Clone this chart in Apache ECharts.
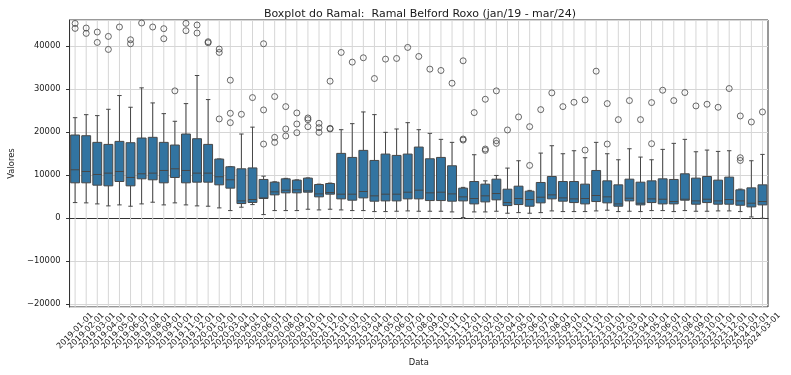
<!DOCTYPE html>
<html>
<head>
<meta charset="utf-8">
<script src="https://cdn.jsdelivr.net/npm/echarts@6/dist/echarts.min.js"></script>
<style>
  html, body { margin: 0; padding: 0; background: #fff; }
  #boxplotMain { width: 791px; height: 375px; }
</style>
</head>
<body>
<div id="boxplotMain"></div>
<script>
// meses (eixo x)
var datas = ['2019-01-01','2019-02-01','2019-03-01','2019-04-01','2019-05-01','2019-06-01','2019-07-01','2019-08-01','2019-09-01','2019-10-01','2019-11-01','2019-12-01',
    '2020-01-01','2020-02-01','2020-03-01','2020-04-01','2020-05-01','2020-06-01','2020-07-01','2020-08-01','2020-09-01','2020-10-01','2020-11-01','2020-12-01',
    '2021-01-01','2021-02-01','2021-03-01','2021-04-01','2021-05-01','2021-06-01','2021-07-01','2021-08-01','2021-09-01','2021-10-01','2021-11-01','2021-12-01',
    '2022-01-01','2022-02-01','2022-03-01','2022-04-01','2022-05-01','2022-06-01','2022-07-01','2022-08-01','2022-09-01','2022-10-01','2022-11-01','2022-12-01',
    '2023-01-01','2023-02-01','2023-03-01','2023-04-01','2023-05-01','2023-06-01','2023-07-01','2023-08-01','2023-09-01','2023-10-01','2023-11-01','2023-12-01',
    '2024-01-01','2024-02-01','2024-03-01'];

// estatisticas de cada caixa
var bigodeInf = [3570,3500,3260,2800,3030,2720,3260,3650,3030,3500,3030,2800,
    2720,2330,1710,2490,3100,780,1710,1710,1710,2020,1860,2020,
    1860,1710,1710,1480,1480,1550,1630,1550,1550,1550,1400,80,
    1400,1400,1550,1090,1240,1090,1240,1630,1480,1480,1480,1630,
    1790,1480,1550,1480,1710,1710,1480,1710,1550,1550,1630,1630,
    1480,230,-80];
var q1 = [8160,8160,7610,7460,8470,7460,9090,8860,8160,9400,8160,8310,
    8310,7690,6920,3340,3600,4510,5360,5830,5830,5980,4900,5520,
    4430,4120,4660,3890,3960,3960,4430,4430,4040,4040,3890,3960,
    3260,3730,4200,2870,3110,2720,3500,4430,3890,3570,3260,3810,
    3500,2720,3960,3030,3570,3260,3260,4120,3190,3570,3190,3190,
    2950,2560,3030];
var mediana = [11190,10800,10100,10410,10800,9400,10260,10410,11030,11420,11030,10410,
    10410,9560,8860,3960,4270,4660,6060,6450,6530,6290,5590,5900,
    5520,5520,6140,5130,5520,5520,5980,6450,5830,5980,5590,4900,
    4510,5130,5670,3570,4510,4270,4820,5360,4660,4430,4510,5210,
    4900,3260,4580,3420,4430,4350,3810,4350,3960,4350,3960,4270,
    3960,3420,3810];
var q3 = [19270,19110,17560,17090,17790,17480,18570,18730,17560,16940,19500,18410,
    17090,13680,11890,11420,11620,8940,8310,9090,8780,9250,7770,8000,
    15000,14060,15700,13360,14840,14530,14840,16470,13750,14060,12120,6920,
    8470,7850,9010,6680,7380,6220,8240,9630,8470,8470,7850,11030,
    8620,7690,9010,8310,8620,9090,8940,10260,9250,9630,8780,9480,
    6530,6990,7690];
var bigodeSup = [23300,24000,23780,25250,28440,25720,30230,26730,24240,22460,26570,33100,
    27510,13700,11900,19500,21100,9710,8400,9200,8850,9300,7850,8100,
    20510,21910,24630,24010,19890,20670,22140,20510,19660,18260,17560,7100,
    14690,8620,9870,11580,13290,6400,15070,16780,14920,15620,13990,17560,
    14920,13520,16080,14140,13520,15930,17330,18260,15380,15770,15460,15620,
    6700,13290,14760];
// pontos fora dos bigodes
var outliers = [[45200,44050],[44130,42890],[43200,40790],[42190,39160],[44370],[41410,40480],[45300],[44370],[43980,41650],[29530],[45220,43510],[44830,42970],
    [40950,40710],[39240,38460,23000],[32010,24320,22140],[24090],[27970],[40480,25100,17170],[28210,18730,17560],[25870,20670,19040],[24400,21830,19810],[23230,22840,21210],[21990,20980,19890],[31780,20820,20670],
    [38460],[36210],[37220],[32400],[36910],[37060],[39630],[37530],[34580],[34270],[31310],[36520,18340,18100],
    [24480],[27580,16010,15700],[29530,17950,17330],[20440],[23470],[21210,12200],[25170],[29060],[25870],[26880],[27430,15770],[34110],
    [26570,17170],[22840],[27270],[22840],[26810,17250],[29680],[27270],[29140],[26030],[26420],[25720],[30070],
    [23700,13990,13360],[22300],[24630]];

var yTicks = [-20000, -10000, 0, 10000, 20000, 30000, 40000];

function boxplotRamal() {
    var chartDom = document.getElementById('boxplotMain');
    var myChart = echarts.init(chartDom, null, { renderer: 'canvas' });
    var fonte = 'DejaVu Sans';

    var caixas = datas.map(function (d, i) {
        return [i, bigodeInf[i], q1[i], mediana[i], q3[i], bigodeSup[i]];
    });
    var pontos = [];
    outliers.forEach(function (lista, i) {
        lista.forEach(function (v) { pontos.push([i, v]); });
    });

    var corLinha = '#474747';

    function desenhaCaixa(params, api) {
        var i = api.value(0);
        var pInf = api.coord([i, api.value(1)]);
        var pQ1 = api.coord([i, api.value(2)]);
        var pMed = api.coord([i, api.value(3)]);
        var pQ3 = api.coord([i, api.value(4)]);
        var pSup = api.coord([i, api.value(5)]);
        var larg = api.size([1, 0])[0];
        var w = larg * 0.8, cap = larg * 0.4;
        var x = pMed[0];
        var cs = params.coordSys;
        var ls = { stroke: corLinha, lineWidth: 1, fill: null };
        return {
            type: 'group',
            children: [
                // linha vertical da grade
                { type: 'line', shape: { x1: x, y1: cs.y, x2: x, y2: cs.y + cs.height }, style: { stroke: '#d6d6d6', lineWidth: 1 } },
                { type: 'line', shape: { x1: x, y1: pInf[1], x2: x, y2: pQ1[1] }, style: ls },
                { type: 'line', shape: { x1: x, y1: pQ3[1], x2: x, y2: pSup[1] }, style: ls },
                { type: 'line', shape: { x1: x - cap / 2, y1: pInf[1], x2: x + cap / 2, y2: pInf[1] }, style: ls },
                { type: 'line', shape: { x1: x - cap / 2, y1: pSup[1], x2: x + cap / 2, y2: pSup[1] }, style: ls },
                { type: 'rect', shape: { x: x - w / 2, y: pQ3[1], width: w, height: pQ1[1] - pQ3[1] },
                  style: { fill: '#3274a1', stroke: corLinha, lineWidth: 1 } },
                { type: 'line', shape: { x1: x - w / 2, y1: pMed[1], x2: x + w / 2, y2: pMed[1] }, style: ls }
            ]
        };
    }

    var option = {
        backgroundColor: '#fff',
        animation: false,
        title: {
            text: 'Boxplot do Ramal:  Ramal Belford Roxo (jan/19 - mar/24)',
            left: 415,
            top: 4,
            textAlign: 'center',
            textStyle: { fontFamily: fonte, fontSize: 11, fontWeight: 'normal', color: '#1a1a1a' }
        },
        grid: {
            left: 63, right: 23, top: 20, bottom: 68,
            show: true, borderColor: '#333', borderWidth: 1, backgroundColor: 'transparent'
        },
        xAxis: {
            type: 'category',
            data: datas,
            boundaryGap: true,
            name: 'Data',
            nameLocation: 'middle',
            nameGap: 52,
            nameTextStyle: { fontFamily: fonte, fontSize: 8.4, color: '#1a1a1a' },
            axisLine: { lineStyle: { color: '#333', width: 1 } },
            axisTick: { alignWithLabel: true, interval: 0, length: 3.5, lineStyle: { color: '#333' } },
            axisLabel: {
                interval: 0, rotate: 45, align: 'center', verticalAlign: 'middle', margin: 24,
                fontFamily: fonte, fontSize: 8.2, color: '#1a1a1a'
            },
            splitLine: { show: false }
        },
        yAxis: {
            type: 'value',
            min: -20700,
            max: 46000,
            name: 'Valores',
            nameLocation: 'middle',
            nameRotate: 90,
            nameGap: 49,
            nameTextStyle: { fontFamily: fonte, fontSize: 8.4, color: '#1a1a1a' },
            axisLine: { show: true, lineStyle: { color: '#333', width: 1 } },
            axisTick: { show: true, length: 3.5, lineStyle: { color: '#333' } },
            axisLabel: {
                margin: 9, fontFamily: fonte, fontSize: 8.4, color: '#1a1a1a',
                showMinLabel: false, showMaxLabel: false,
                formatter: function (v) {
                    if (yTicks.indexOf(v) < 0) return '';
                    return String(v).replace('-', '\u2212');
                }
            },
            splitLine: { show: true, lineStyle: { color: '#d6d6d6', width: 1 } }
        },
        series: [
            {
                type: 'custom',
                renderItem: desenhaCaixa,
                data: caixas,
                encode: { x: 0, y: [1, 2, 3, 4, 5] },
                z: 2
            },
            {
                type: 'scatter',
                data: pontos,
                symbol: 'circle',
                symbolSize: 6,
                itemStyle: { color: 'rgba(0,0,0,0)', borderColor: '#444', borderWidth: 1 },
                z: 3
            }
        ]
    };
    myChart.setOption(option);
}

boxplotRamal();
</script>
</body>
</html>
